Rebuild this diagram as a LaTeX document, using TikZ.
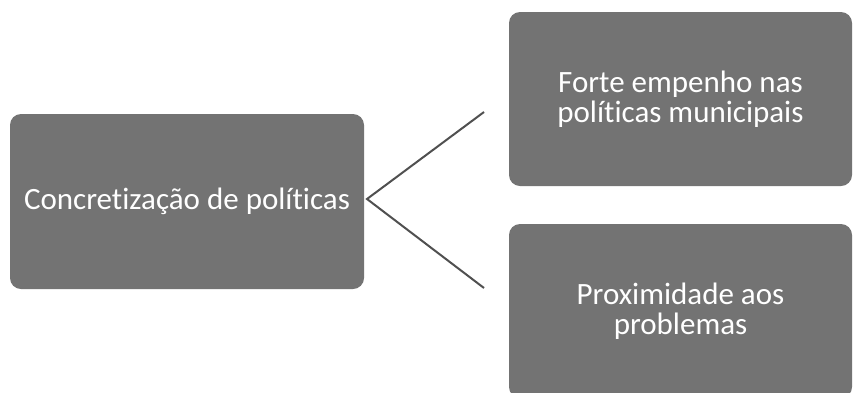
\documentclass[tikz,border=0pt]{standalone}
\usepackage{fontspec}
\setmainfont[Ligatures={NoCommon,NoRare,NoDiscretionary},RawFeature={-liga;-dlig}]{Carlito}
\begin{document}
\begin{tikzpicture}[x=1pt,y=-1pt,
  box/.style={fill=boxgray, rounded corners=11pt, text=white, align=center,
    font=\fontsize{31}{30}\selectfont, inner sep=0pt},
  link/.style={draw=linegray, line width=2pt}]
\definecolor{boxgray}{HTML}{737373}
\definecolor{linegray}{HTML}{505050}
\useasboundingbox (0,0) rectangle (853,392);
\begin{scope}
\clip (0,0) rectangle (853,392);
\node[box, minimum width=354pt, minimum height=175pt] (L) at (187,201.5) {Concretização de políticas};
\node[box, minimum width=343pt, minimum height=174pt] (T) at (680.5,99) {Forte empenho nas\\políticas municipais};
\node[box, minimum width=343pt, minimum height=174pt] (B) at (680.5,311) {Proximidade aos\\problemas};
\end{scope}
\coordinate (S) at (367,199);
\coordinate (E1) at (484,112);
\coordinate (E2) at (484,288);
\draw[link] (E1) -- (S) -- (E2);
\end{tikzpicture}
\end{document}
